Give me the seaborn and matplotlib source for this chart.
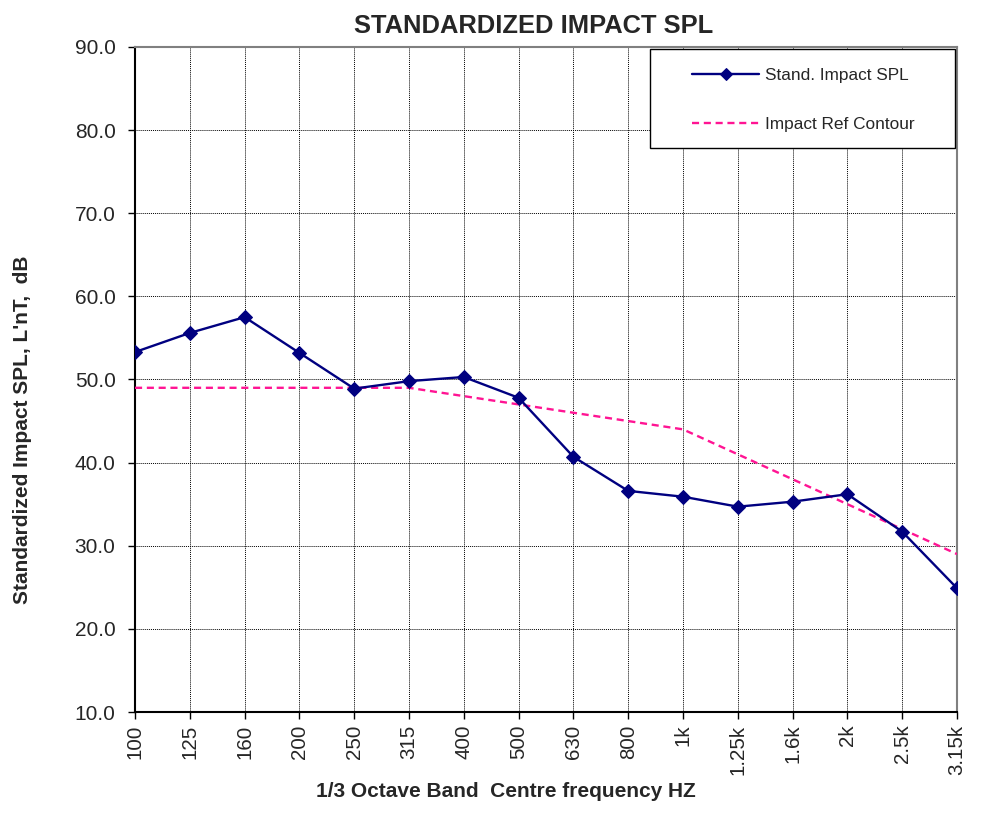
import numpy as np
import pandas as pd
import matplotlib
matplotlib.use("Agg")
import matplotlib.pyplot as plt
from matplotlib.patches import Rectangle
import seaborn as sns

# data
bands = ["100", "125", "160", "200", "250", "315", "400", "500", "630", "800",
         "1k", "1.25k", "1.6k", "2k", "2.5k", "3.15k"]
impact_spl = [53.3, 55.6, 57.5, 53.2, 48.9, 49.8, 50.3, 47.8, 40.7, 36.6,
              35.9, 34.7, 35.3, 36.2, 31.7, 24.9]
ref_contour = [49, 49, 49, 49, 49, 49, 48, 47, 46, 45, 44, 41, 38, 35, 32, 29]
y_ticks = [10, 20, 30, 40, 50, 60, 70, 80, 90]

sns.set_style("white")
plt.rcParams['font.family'] = ['Liberation Sans', 'DejaVu Sans']

df = pd.DataFrame({"idx": np.arange(len(bands)), "spl": impact_spl, "ref": ref_contour})

fig = plt.figure(figsize=(9.82, 8.14), dpi=100)
ax = fig.add_axes([0.1375, 0.1253, 0.837, 0.817])

sns.lineplot(data=df, x="idx", y="spl", ax=ax, color="#000080", linewidth=1.7,
             marker="D", markersize=7, markeredgecolor="#000080",
             label="Stand. Impact SPL", zorder=4)
sns.lineplot(data=df, x="idx", y="ref", ax=ax, color="#FF1493", linewidth=1.7,
             linestyle=(0, (3, 2)), label="Impact Ref Contour", zorder=3)

ax.set_xlim(0, len(bands) - 1)
ax.set_ylim(10, 90)
ax.set_xticks(df["idx"])
ax.set_xticklabels(bands, rotation=90, fontsize=14.8)
ax.set_yticks(y_ticks)
ax.set_yticklabels([f"{v:.1f}" for v in y_ticks], fontsize=15)
ax.tick_params(axis="both", direction="out", length=5, width=1, color="black",
               bottom=True, left=True)
ax.tick_params(axis="y", pad=9)
ax.tick_params(axis="x", pad=4)

ax.grid(True, color="black", linestyle=(0, (1, 1)), linewidth=0.7)
ax.set_axisbelow(True)
for s in ["left", "bottom"]:
    ax.spines[s].set_color("black")
    ax.spines[s].set_linewidth(1.5)
for s in ["top", "right"]:
    ax.spines[s].set_color("#808080")
    ax.spines[s].set_linewidth(1.5)

ax.set_title("STANDARDIZED IMPACT SPL", fontsize=18.4, fontweight="bold", x=0.485, pad=10)
ax.set_xlabel("1/3 Octave Band  Centre frequency HZ", fontsize=15, fontweight="bold")
ax.xaxis.set_label_coords(0.451, -0.119)
ax.xaxis.label.set_va("center")
ax.set_ylabel("Standardized Impact SPL, L'nT,  dB", fontsize=15, fontweight="bold")
ax.yaxis.set_label_coords(-0.137, 0.424)
ax.yaxis.label.set_va("center")

# legend box (square frame) and entries
ax.add_patch(Rectangle((0.6265, 0.848), 0.371, 0.149, transform=ax.transAxes,
                       facecolor="white", edgecolor="black", linewidth=1.0,
                       zorder=5, clip_on=False))
leg = ax.legend(loc="center left", bbox_to_anchor=(0.6776, 0.920), fontsize=12.4,
                frameon=False, labelspacing=1.95, handlelength=3.9,
                handletextpad=0.36, borderpad=0, borderaxespad=0)
leg.set_zorder(6)
for line in leg.get_lines():
    line.set_markersize(6)

fig.savefig("out.png", dpi=100)
